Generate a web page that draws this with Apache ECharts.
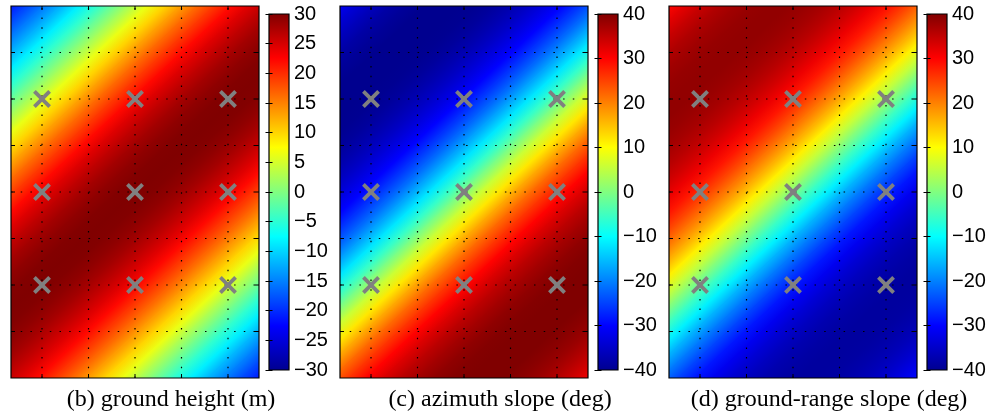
<!DOCTYPE html>
<html><head><meta charset="utf-8">
<script src="https://cdn.jsdelivr.net/npm/echarts@6/dist/echarts.min.js"></script>
<style>html,body{margin:0;padding:0;background:#fff}#c{width:992px;height:415px}</style>
</head><body><div id="c"></div>
<script>
// ---- data ----
// position across the diagonal stripes (grid units, + towards lower-right)
const profileS = [-5,-4.75,-4.5,-4.25,-4,-3.75,-3.5,-3.25,-3,-2.75,-2.5,-2.25,-2,-1.75,-1.5,-1.25,-1,-0.75,-0.5,-0.25,0,0.25,0.5,0.75,1,1.25,1.5,1.75,2,2.25,2.5,2.75,3,3.25,3.5,3.75,4,4.25,4.5,4.75,5];
const groundHeight = [-23.5,-21.1,-18.3,-15.2,-11.9,-8.4,-4.8,-1.1,2.6,6.3,9.9,13.3,16.5,19.4,22.1,24.5,26.4,28.0,29.1,29.8,30.0,29.8,29.1,28.0,26.4,24.5,22.1,19.4,16.5,13.3,9.9,6.3,2.6,-1.1,-4.8,-8.4,-11.9,-15.2,-18.3,-21.1,-23.5];
const azimuthSlope = [-27.8,-31.2,-34.0,-36.2,-38.0,-39.2,-40.0,-40.3,-40.3,-39.7,-38.8,-37.3,-35.4,-32.9,-29.9,-26.2,-22.0,-17.1,-11.8,-6.0,0,6.0,11.8,17.1,22.0,26.2,29.9,32.9,35.4,37.3,38.8,39.7,40.3,40.3,40.0,39.2,38.0,36.2,34.0,31.2,27.8];
const groundRangeSlope = [26.4,29.7,32.4,34.6,36.3,37.5,38.3,38.6,38.6,38.0,37.1,35.7,33.8,31.4,28.4,24.9,20.8,16.2,11.1,5.6,0,-5.6,-11.1,-16.2,-20.8,-24.9,-28.4,-31.4,-33.8,-35.7,-37.1,-38.0,-38.6,-38.6,-38.3,-37.5,-36.3,-34.6,-32.4,-29.7,-26.4];
const stripeAngleDeg = 43;          // orientation of the constant-value stripes
const xExtent = [-8/3, 8/3];
const yExtent = [-4, 4];
const xTicks = [-2, -1, 0, 1, 2];
const yTicks = [-3, -2, -1, 0, 1, 2, 3];
const markerX = [-2, 0, 2, -2, 0, 2, -2, 0, 2];
const markerY = [2, 2, 2, 0, 0, 0, -2, -2, -2];
const cbTicksHeight = [-30,-25,-20,-15,-10,-5,0,5,10,15,20,25,30];
const cbTicksSlope = [-40,-30,-20,-10,0,10,20,30,40];
const captions = ['(b) ground height (m)', '(c) azimuth slope (deg)', '(d) ground-range slope (deg)'];

// ---- style / layout ----
const jetColors = ['#00008f','#0000ff','#0080ff','#00ffff','#80ff80','#ffff00','#ff8000','#ff0000','#800000'];
const fieldLeft = [11, 340, 669], fieldTop = 6, fieldW = 248, fieldH = 372;
const cbLeft = [269, 598, 927], cbTop = 14, cbW = 20, cbH = 356;
const captionX = [171, 500, 829], captionY = 400;

function hexRgb(h){ return [parseInt(h.slice(1,3),16), parseInt(h.slice(3,5),16), parseInt(h.slice(5,7),16)]; }
function jet(v, lo, hi){
  let t = (v - lo) / (hi - lo); t = Math.max(0, Math.min(1, t));
  const f = t * 8; const i = Math.min(7, Math.floor(f)); const u = f - i;
  const a = hexRgb(jetColors[i]), b = hexRgb(jetColors[i+1]);
  return 'rgb(' + [0,1,2].map(k => Math.round(a[k] + (b[k]-a[k])*u)).join(',') + ')';
}

const panels = [
  {vals: groundHeight, ticks: cbTicksHeight},
  {vals: azimuthSlope, ticks: cbTicksSlope},
  {vals: groundRangeSlope, ticks: cbTicksSlope}
];

const grid = [], xAxis = [], yAxis = [], series = [], graphic = [];
const fmt = v => v < 0 ? '\u2212' + Math.abs(v) : String(v);

panels.forEach((p, k) => {
  grid.push({left: fieldLeft[k], top: fieldTop, width: fieldW, height: fieldH});
  xAxis.push({type: 'value', gridIndex: k, min: xExtent[0], max: xExtent[1], show: false});
  yAxis.push({type: 'value', gridIndex: k, min: yExtent[0], max: yExtent[1], show: false});
});
panels.forEach((p, k) => {
  grid.push({left: cbLeft[k], top: cbTop, width: cbW, height: cbH});
  xAxis.push({type: 'value', gridIndex: 3 + k, min: 0, max: 1, show: false});
});
panels.forEach((p, k) => {
  const t = p.ticks;
  yAxis.push({type: 'value', gridIndex: 3 + k, position: 'right', min: t[0], max: t[t.length-1], interval: t[1]-t[0], z: 10,
    axisLine: {show: false}, splitLine: {show: false},
    axisTick: {inside: true, length: 3.5, lineStyle: {color: '#000', width: 1}},
    axisLabel: {formatter: fmt, fontSize: 20, fontFamily: 'Liberation Sans, Arial, sans-serif', color: '#000', margin: 5}});
});
panels.forEach((p, k) => {
  const t = p.ticks;
  yAxis.push({type: 'value', gridIndex: 3 + k, position: 'left', min: t[0], max: t[t.length-1], interval: t[1]-t[0], z: 10,
    axisLine: {show: false}, splitLine: {show: false}, axisLabel: {show: false},
    axisTick: {inside: true, length: 3.5, lineStyle: {color: '#000', width: 1}}});
});

const ang = stripeAngleDeg * Math.PI / 180;
const nx = Math.sin(ang), ny = -Math.cos(ang), tx = Math.cos(ang), ty = Math.sin(ang);

panels.forEach((p, k) => {
  const t = p.ticks, lo = t[0], hi = t[t.length-1];
  // stripe bands
  const bands = [];
  for (let i = 0; i < profileS.length - 1; i++) bands.push([profileS[i], profileS[i+1], p.vals[i], p.vals[i+1]]);
  series.push({
    type: 'custom', xAxisIndex: k, yAxisIndex: k, clip: true, silent: true, z: 1, data: bands,
    renderItem: (params, api) => {
      const s0 = api.value(0), s1 = api.value(1), v0 = api.value(2), v1 = api.value(3);
      const L = 12, e = 0.02, sa = s0 - e, sb = s1 + e;
      const pts = [[sa*nx - L*tx, sa*ny - L*ty], [sa*nx + L*tx, sa*ny + L*ty],
                   [sb*nx + L*tx, sb*ny + L*ty], [sb*nx - L*tx, sb*ny - L*ty]].map(q => api.coord(q));
      const g0 = api.coord([s0*nx, s0*ny]), g1 = api.coord([s1*nx, s1*ny]);
      return {type: 'polygon', shape: {points: pts},
        style: {fill: new echarts.graphic.LinearGradient(g0[0], g0[1], g1[0], g1[1],
          [{offset: 0, color: jet(v0, lo, hi)}, {offset: 1, color: jet(v1, lo, hi)}], true)}};
    }
  });
  // frame: dotted grid, inner ticks, box
  const frame = xTicks.map(v => [0, v]).concat(yTicks.map(v => [1, v])).concat([[2, 0]]);
  series.push({
    type: 'custom', xAxisIndex: k, yAxisIndex: k, clip: false, silent: true, z: 3, data: frame,
    renderItem: (params, api) => {
      const kind = api.value(0), v = api.value(1), TL = 4;
      const dot = {stroke: '#000', lineWidth: 1.2, lineDash: [1.5, 8.2]};
      const solid = {stroke: '#000', lineWidth: 1};
      if (kind === 0) {
        const a = api.coord([v, yExtent[0]]), b = api.coord([v, yExtent[1]]);
        return {type: 'group', children: [
          {type: 'line', shape: {x1: a[0], y1: a[1], x2: b[0], y2: b[1]}, style: dot},
          {type: 'line', shape: {x1: a[0], y1: a[1], x2: a[0], y2: a[1] - TL}, style: solid},
          {type: 'line', shape: {x1: b[0], y1: b[1], x2: b[0], y2: b[1] + TL}, style: solid}]};
      }
      if (kind === 1) {
        const a = api.coord([xExtent[0], v]), b = api.coord([xExtent[1], v]);
        return {type: 'group', children: [
          {type: 'line', shape: {x1: a[0], y1: a[1], x2: b[0], y2: b[1]}, style: dot},
          {type: 'line', shape: {x1: a[0], y1: a[1], x2: a[0] + TL, y2: a[1]}, style: solid},
          {type: 'line', shape: {x1: b[0], y1: b[1], x2: b[0] - TL, y2: b[1]}, style: solid}]};
      }
      const a = api.coord([xExtent[0], yExtent[1]]), b = api.coord([xExtent[1], yExtent[0]]);
      return {type: 'rect', shape: {x: a[0], y: a[1], width: b[0]-a[0], height: b[1]-a[1]},
        style: {fill: 'none', stroke: '#000', lineWidth: 1.2}};
    }
  });
  // gray X markers
  series.push({
    type: 'custom', xAxisIndex: k, yAxisIndex: k, clip: false, silent: true, z: 4,
    data: markerX.map((x, i) => [x, markerY[i]]),
    renderItem: (params, api) => {
      const c = api.coord([api.value(0), api.value(1)]), h = 7.6;
      const st = {stroke: '#808080', lineWidth: 3.8};
      return {type: 'group', children: [
        {type: 'line', shape: {x1: c[0]-h, y1: c[1]-h, x2: c[0]+h, y2: c[1]+h}, style: st},
        {type: 'line', shape: {x1: c[0]-h, y1: c[1]+h, x2: c[0]+h, y2: c[1]-h}, style: st}]};
    }
  });
  // colorbar
  series.push({
    type: 'custom', xAxisIndex: 3 + k, yAxisIndex: 3 + k, clip: false, silent: true, z: 2, data: [[0, lo]],
    renderItem: (params, api) => {
      const a = api.coord([0, hi]), b = api.coord([1, lo]);
      return {type: 'rect', shape: {x: a[0], y: a[1], width: b[0]-a[0], height: b[1]-a[1]},
        style: {stroke: '#000', lineWidth: 1.2,
          fill: new echarts.graphic.LinearGradient(0, 1, 0, 0,
            jetColors.map((c, i) => ({offset: i / 8, color: c})))}};
    }
  });
  graphic.push({type: 'text', x: captionX[k], y: captionY, silent: true,
    style: {text: captions[k], fill: '#000', fontSize: 24, fontFamily: 'Liberation Serif, Times New Roman, serif',
      align: 'center', verticalAlign: 'middle', textAlign: 'center', textVerticalAlign: 'middle'}});
});

const chart = echarts.init(document.getElementById('c'), null, {renderer: 'canvas'});
chart.setOption({animation: false, backgroundColor: '#fff', grid, xAxis, yAxis, series, graphic});
</script>
</body></html>
